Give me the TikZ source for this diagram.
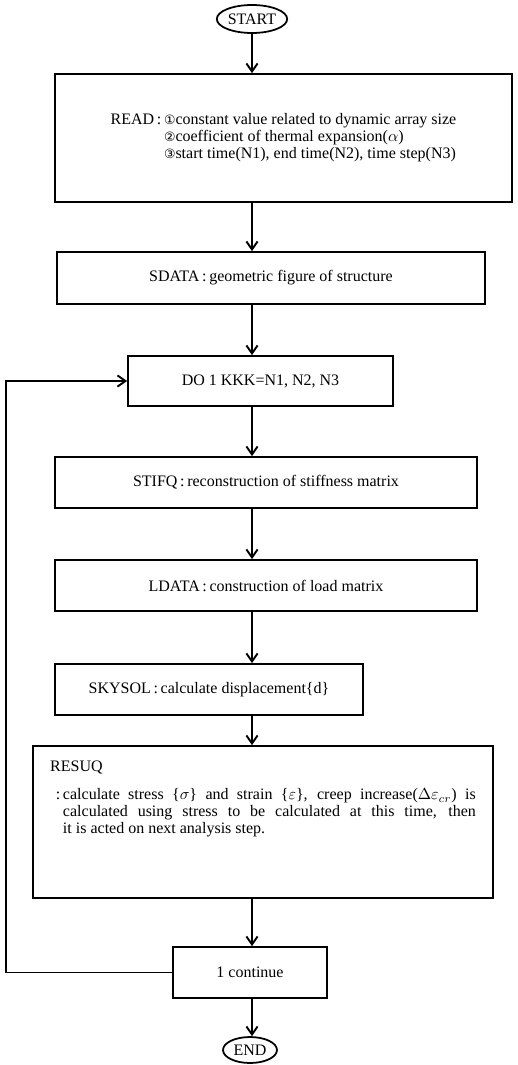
\documentclass[tikz,border=0pt]{standalone}
\usepackage{fontspec}
\setmainfont{Liberation Serif}
\newfontfamily\circfont{DejaVu Sans}
\usetikzlibrary{shapes.geometric,arrows.meta}

\newcommand{\cn}[1]{{\circfont\footnotesize #1}}

\begin{document}
\begin{tikzpicture}[x=0.625pt,y=-0.625pt,
  every node/.style={font=\fontsize{10}{10.6}\selectfont},
  term/.style={draw,ellipse,line width=1.1pt,inner sep=0pt},
  blk/.style={draw,rectangle,line width=1.1pt,inner sep=0pt},
  arr/.style={line width=1.2pt,-{Straight Barb[length=5pt,width=7pt]}}]
  \useasboundingbox (0,0) rectangle (518,1065);
  % terminals and boxes
  \node[term,minimum width=44pt,minimum height=17.5pt] (start) at (252,19) {START};
  \node[blk,minimum width=285.6pt,minimum height=80pt,align=left] (read) at (283.5,138)
    {READ\,:\,\cn{①}constant value related to dynamic array size\\
     \phantom{READ\,:\,}\cn{②}coefficient of thermal expansion($\alpha$)\\
     \phantom{READ\,:\,}\cn{③}start time(N1), end time(N2), time step(N3)};
  \node[blk,minimum width=267.5pt,minimum height=32.5pt] (sdata) at (271,278)
    {SDATA\,:\,geometric figure of structure};
  \node[blk,minimum width=165.6pt,minimum height=31.25pt] (do) at (260.5,381)
    {DO 1 KKK=N1, N2, N3};
  \node[blk,minimum width=263.75pt,minimum height=31.9pt] (stifq) at (266,482.5)
    {STIFQ\,:\,reconstruction of stiffness matrix};
  \node[blk,minimum width=263.75pt,minimum height=31.9pt] (ldata) at (266,585.5)
    {LDATA\,:\,construction of load matrix};
  \node[blk,minimum width=192.5pt,minimum height=31.9pt] (skysol) at (209,689.5)
    {SKYSOL\,:\,calculate displacement\{d\}};
  \node[blk,minimum width=287.5pt,minimum height=95pt,text width=266pt,align=justify] (resuq) at (263,822)
    {RESUQ\par\vspace{7pt}\leftskip=8pt\noindent\llap{:\,}calculate stress \{$\sigma$\} and strain \{$\varepsilon$\}, creep increase($\Delta\varepsilon_{cr}$) is\linebreak
     calculated using stress to be calculated at this time, then\linebreak
     it is acted on next analysis step.\par\vspace*{20pt}\hbox{}};
  \node[blk,minimum width=96.25pt,minimum height=31.9pt] (cont) at (250,972.5)
    {1 continue};
  \node[term,minimum width=33.75pt,minimum height=16.25pt] (end) at (250,1050) {END};
  \coordinate (loop) at (6,972.5);
  % connectors
  \draw[arr] (start.south) -- (read.north -| start.south);
  \draw[arr] (read.south -| start.south) -- (sdata.north -| start.south);
  \draw[arr] (sdata.south -| start.south) -- (do.north -| start.south);
  \draw[arr] (do.south -| start.south) -- (stifq.north -| start.south);
  \draw[arr] (stifq.south -| start.south) -- (ldata.north -| start.south);
  \draw[arr] (ldata.south -| start.south) -- (skysol.north -| start.south);
  \draw[arr] (skysol.south -| start.south) -- (resuq.north -| start.south);
  \draw[arr] (resuq.south -| start.south) -- (cont.north -| start.south);
  \draw[arr] (cont.south -| start.south) -- (end.north -| start.south);
  \draw[arr] (cont.west) -- (loop) |- (do.west);
\end{tikzpicture}
\end{document}
